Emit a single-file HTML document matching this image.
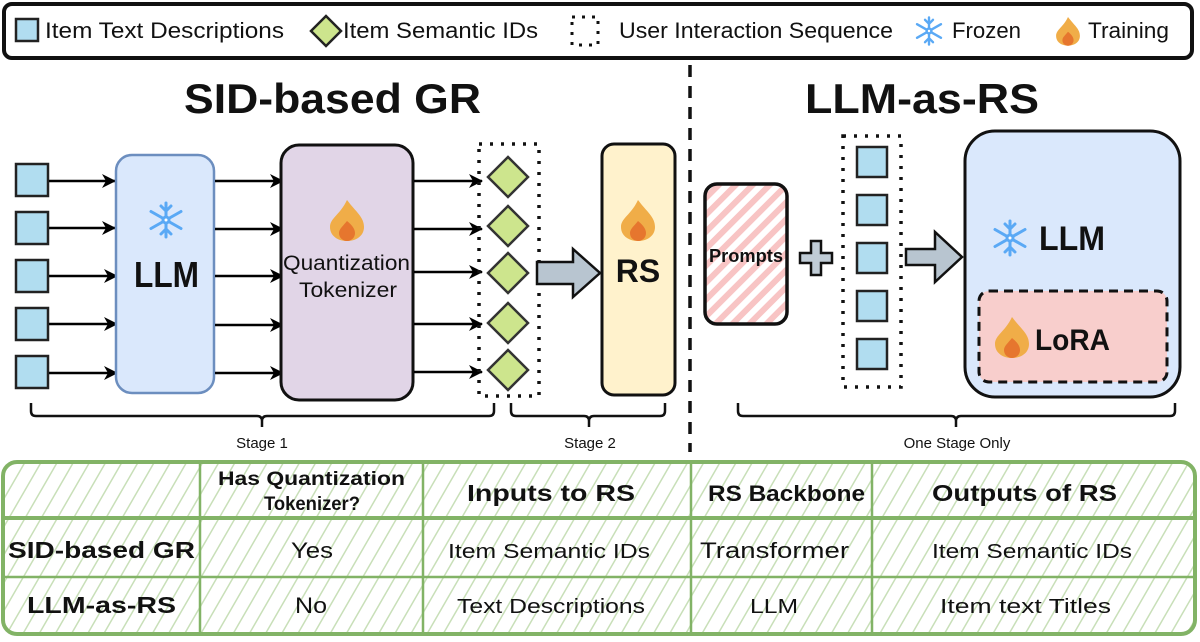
<!DOCTYPE html>
<html><head><meta charset="utf-8"><style>
body{margin:0;background:#fff}
svg{display:block}
text{font-family:"Liberation Sans",sans-serif;fill:#111}
</style></head><body>
<svg width="1200" height="642" viewBox="0 0 1200 642" xmlns="http://www.w3.org/2000/svg">
<defs>
<marker id="ah" markerWidth="14" markerHeight="14" refX="13" refY="7" orient="auto" markerUnits="userSpaceOnUse"><path d="M0,0 L14,7 L0,14 L4,7 Z" fill="#000"/></marker>
<pattern id="pink" patternUnits="userSpaceOnUse" width="12" height="12" patternTransform="rotate(45)"><rect width="12" height="12" fill="#fff"/><rect width="6" height="12" fill="#f8c4c4"/></pattern>
<pattern id="green" patternUnits="userSpaceOnUse" width="14" height="14" patternTransform="rotate(30)"><rect width="14" height="14" fill="#fff"/><rect width="1.5" height="14" fill="#c8dfb8"/></pattern>
<g id="snow" stroke="#5aa9f5" stroke-width="3" stroke-linecap="round" fill="none"><path d="M0,-17V17M-15,-8.5L15,8.5M-15,8.5L15,-8.5M-5,-14L0,-9L5,-14M-5,14L0,9L5,14"/><circle r="3" fill="#fff"/></g>
<g id="fire"><path d="M0,-20 C9,-8 17,-3 17,7 C17,16 9,21 0,21 C-9,21 -17,16 -17,7 C-17,-2 -7,-5 0,-20Z" fill="#f0ad48"/><path d="M0,1 C5,5 8,9 8,13 C8,18 4,21 0,21 C-4,21 -8,18 -8,13 C-8,9 -4,6 0,1Z" fill="#e6762e"/></g>
</defs>
<!-- legend -->
<rect x="4" y="4" width="1188" height="54" rx="8" fill="#fff" stroke="#111" stroke-width="4"/>
<rect x="16" y="19" width="22" height="22" fill="#b1ddf0" stroke="#222" stroke-width="2.5"/>
<text x="45" y="38" font-size="22" textLength="239" lengthAdjust="spacingAndGlyphs">Item Text Descriptions</text>
<path d="M326,16 L341,31 L326,46 L311,31Z" fill="#cde58d" stroke="#222" stroke-width="2.5"/>
<text x="343" y="38" font-size="22" textLength="195" lengthAdjust="spacingAndGlyphs">Item Semantic IDs</text>
<rect x="572" y="17" width="26" height="28" fill="none" stroke="#111" stroke-width="3" stroke-dasharray="3,7"/>
<text x="619" y="38" font-size="22" textLength="274" lengthAdjust="spacingAndGlyphs">User Interaction Sequence</text>
<use href="#snow" transform="translate(929,31) scale(0.8)"/>
<text x="952" y="38" font-size="22" textLength="69" lengthAdjust="spacingAndGlyphs">Frozen</text>
<use href="#fire" transform="translate(1068,31) scale(0.7)"/>
<text x="1088" y="38" font-size="22" textLength="81" lengthAdjust="spacingAndGlyphs">Training</text>
<!-- divider -->
<line x1="690" y1="65" x2="690" y2="452" stroke="#111" stroke-width="3.5" stroke-dasharray="12,9"/>
<!-- titles -->
<text x="184" y="113" font-size="42" font-weight="bold" textLength="297" lengthAdjust="spacingAndGlyphs">SID-based GR</text>
<text x="805" y="113" font-size="42" font-weight="bold" textLength="234" lengthAdjust="spacingAndGlyphs">LLM-as-RS</text>
<!-- left squares & arrows -->
<g fill="#b1ddf0" stroke="#222" stroke-width="2.5">
<rect x="16" y="164" width="32" height="32"/><rect x="16" y="212" width="32" height="32"/><rect x="16" y="260" width="32" height="32"/><rect x="16" y="308" width="32" height="32"/><rect x="16" y="356" width="32" height="32"/>
</g>
<g stroke="#000" stroke-width="2.5" marker-end="url(#ah)">
<line x1="49" y1="181" x2="115" y2="181"/><line x1="49" y1="228" x2="115" y2="228"/><line x1="49" y1="276" x2="117" y2="276"/><line x1="49" y1="324" x2="117" y2="324"/><line x1="49" y1="373" x2="117" y2="373"/>
</g>
<rect x="116" y="155" width="98" height="238" rx="16" fill="#dae8fc" stroke="#6c8ebf" stroke-width="2.5"/>
<use href="#snow" transform="translate(166,220)"/>
<text x="134" y="287" font-size="36" font-weight="bold" textLength="65" lengthAdjust="spacingAndGlyphs">LLM</text>
<g stroke="#000" stroke-width="2.5" marker-end="url(#ah)">
<line x1="215" y1="181" x2="283" y2="181"/><line x1="215" y1="229" x2="283" y2="229"/><line x1="215" y1="276" x2="283" y2="276"/><line x1="215" y1="325" x2="283" y2="325"/><line x1="215" y1="373" x2="283" y2="373"/>
</g>
<rect x="281" y="145" width="132" height="255" rx="18" fill="#e1d5e7" stroke="#111" stroke-width="3"/>
<use href="#fire" transform="translate(347,220)"/>
<text x="283" y="270" font-size="21" textLength="127" lengthAdjust="spacingAndGlyphs">Quantization</text>
<text x="299" y="297" font-size="21" textLength="98" lengthAdjust="spacingAndGlyphs">Tokenizer</text>
<g stroke="#000" stroke-width="2.5" marker-end="url(#ah)">
<line x1="414" y1="181" x2="482" y2="181"/><line x1="414" y1="229" x2="482" y2="229"/><line x1="414" y1="272" x2="482" y2="272"/><line x1="414" y1="324" x2="482" y2="324"/><line x1="414" y1="372" x2="482" y2="372"/>
</g>
<rect x="479" y="144" width="60" height="252" fill="none" stroke="#111" stroke-width="3.5" stroke-dasharray="3,8"/>
<g fill="#cde58d" stroke="#333" stroke-width="2.5">
<path d="M508,157l20,20l-20,20l-20,-20z"/><path d="M508,206l20,20l-20,20l-20,-20z"/><path d="M508,253l20,20l-20,20l-20,-20z"/><path d="M508,303l20,20l-20,20l-20,-20z"/><path d="M508,350l20,20l-20,20l-20,-20z"/>
</g>
<path d="M537,262 H573 V249 L600,273 L573,297 V284 H537 Z" fill="#b8c5d0" stroke="#111" stroke-width="2.5"/>
<rect x="602" y="144" width="73" height="251" rx="12" fill="#fff2cc" stroke="#111" stroke-width="3"/>
<use href="#fire" transform="translate(638,220)"/>
<text x="638" y="282" font-size="32" font-weight="bold" text-anchor="middle">RS</text>
<!-- braces -->
<g fill="none" stroke="#111" stroke-width="2.5">
<path d="M31,403 v8 q0,5 5,5 h221 q5,0 5,5 v6 M262,421 q0,-5 5,-5 h222 q5,0 5,-5 v-8"/>
<path d="M511,403 v8 q0,5 5,5 h68 q5,0 5,5 v6 M589,421 q0,-5 5,-5 h66 q5,0 5,-5 v-8"/>
<path d="M738,403 v8 q0,5 5,5 h208 q5,0 5,5 v6 M956,421 q0,-5 5,-5 h209 q5,0 5,-5 v-8"/>
</g>
<text x="262" y="448" font-size="15" text-anchor="middle">Stage 1</text>
<text x="590" y="448" font-size="15" text-anchor="middle">Stage 2</text>
<text x="957" y="448" font-size="15" text-anchor="middle">One Stage Only</text>
<!-- right -->
<rect x="705" y="184" width="82" height="140" rx="12" fill="url(#pink)" stroke="#111" stroke-width="3.5"/>
<text x="709" y="262" font-size="18" font-weight="bold" textLength="74" lengthAdjust="spacingAndGlyphs">Prompts</text>
<path d="M811,241 h10 v12 h11 v10 h-11 v12 h-10 v-12 h-11 v-10 h11 z" fill="#c0ccd6" stroke="#111" stroke-width="2.5"/>
<rect x="843" y="136" width="58" height="251" fill="none" stroke="#111" stroke-width="3.5" stroke-dasharray="3,8"/>
<g fill="#b1ddf0" stroke="#222" stroke-width="2.5">
<rect x="857" y="147" width="30" height="30"/><rect x="857" y="195" width="30" height="30"/><rect x="857" y="243" width="30" height="30"/><rect x="857" y="291" width="30" height="30"/><rect x="857" y="339" width="30" height="30"/>
</g>
<path d="M906,249 H935 V232 L962,257 L935,282 V265 H906 Z" fill="#b8c5d0" stroke="#111" stroke-width="2.5"/>
<rect x="965" y="131" width="215" height="266" rx="30" fill="#dae8fc" stroke="#111" stroke-width="3"/>
<use href="#snow" transform="translate(1010,238)"/>
<text x="1039" y="250" font-size="34" font-weight="bold" textLength="66" lengthAdjust="spacingAndGlyphs">LLM</text>
<rect x="979" y="291" width="188" height="91" rx="10" fill="#f8cecc" stroke="#111" stroke-width="3" stroke-dasharray="9,6"/>
<use href="#fire" transform="translate(1012,337)"/>
<text x="1035" y="350" font-size="30" font-weight="bold" textLength="75" lengthAdjust="spacingAndGlyphs">LoRA</text>
<!-- table -->
<rect x="3" y="462" width="1192" height="172" rx="14" fill="url(#green)" stroke="#82b366" stroke-width="4"/>
<g stroke="#82b366" stroke-width="2.5">
<line x1="200" y1="464" x2="200" y2="632"/><line x1="423" y1="464" x2="423" y2="632"/><line x1="691" y1="464" x2="691" y2="632"/><line x1="872" y1="464" x2="872" y2="632"/>
<line x1="5" y1="518" x2="1193" y2="518" stroke-width="4"/><line x1="5" y1="577" x2="1193" y2="577"/>
</g>
<g font-size="20" lengthAdjust="spacingAndGlyphs">
<text x="218" y="485" font-size="19" font-weight="bold" textLength="187" lengthAdjust="spacingAndGlyphs">Has Quantization</text>
<text x="264" y="510" font-size="19" font-weight="bold" textLength="96" lengthAdjust="spacingAndGlyphs">Tokenizer?</text>
<text x="467" y="501" font-size="23" font-weight="bold" textLength="168" lengthAdjust="spacingAndGlyphs">Inputs to RS</text>
<text x="708" y="501" font-size="22" font-weight="bold" textLength="157" lengthAdjust="spacingAndGlyphs">RS Backbone</text>
<text x="932" y="501" font-size="23" font-weight="bold" textLength="185" lengthAdjust="spacingAndGlyphs">Outputs of RS</text>
<text x="8" y="558" font-size="23" font-weight="bold" textLength="187" lengthAdjust="spacingAndGlyphs">SID-based GR</text>
<text x="291" y="558" font-size="22" textLength="42" lengthAdjust="spacingAndGlyphs">Yes</text>
<text x="448" y="558" textLength="202" lengthAdjust="spacingAndGlyphs">Item Semantic IDs</text>
<text x="700" y="558" font-size="22" textLength="149" lengthAdjust="spacingAndGlyphs">Transformer</text>
<text x="932" y="558" textLength="200" lengthAdjust="spacingAndGlyphs">Item Semantic IDs</text>
<text x="27" y="613" font-size="23" font-weight="bold" textLength="149" lengthAdjust="spacingAndGlyphs">LLM-as-RS</text>
<text x="295" y="613" font-size="22" textLength="32" lengthAdjust="spacingAndGlyphs">No</text>
<text x="457" y="613" textLength="188" lengthAdjust="spacingAndGlyphs">Text Descriptions</text>
<text x="750" y="613" textLength="48" lengthAdjust="spacingAndGlyphs">LLM</text>
<text x="940" y="613" textLength="171" lengthAdjust="spacingAndGlyphs">Item text Titles</text>
</g>
</svg>
</body></html>
